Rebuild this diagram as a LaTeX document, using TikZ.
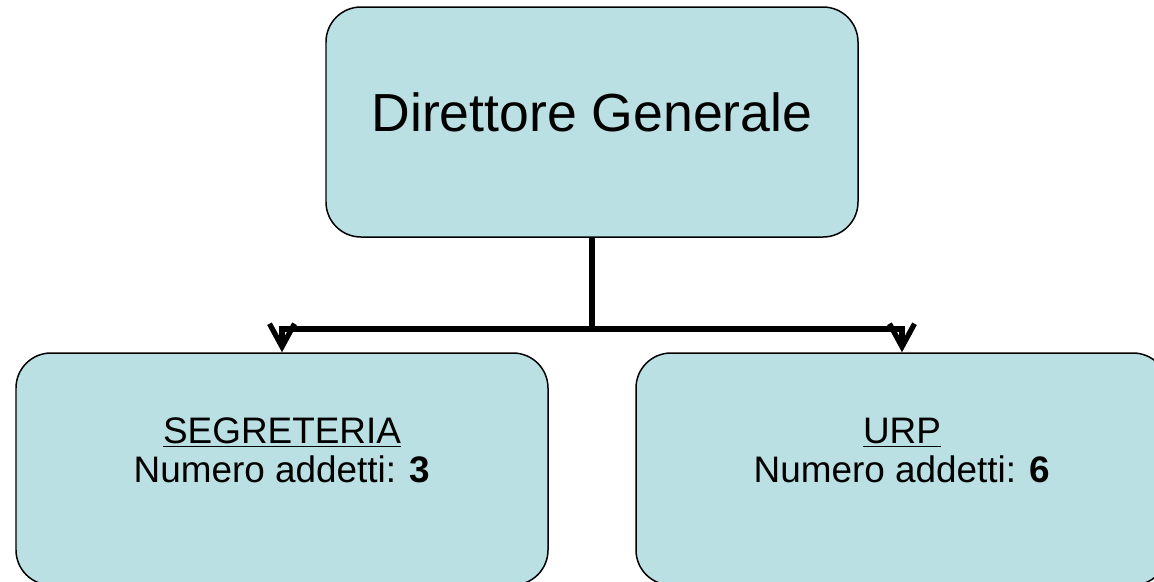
\documentclass[tikz,border=0pt]{standalone}
\usepackage{fontspec}
\setmainfont{Liberation Sans}
\usepackage{xcolor}
\usetikzlibrary{arrows.meta, positioning}
\definecolor{boxblue}{RGB}{187,224,228}
\tikzset{
    unit/.style={draw=black, line width=0.85pt, fill=boxblue, rounded corners=0.7cm, minimum width=10.64cm}, % one office of the chart
    bigtext/.style={font=\fontsize{30.5}{36}\selectfont}, % title of the top box
    smalltext/.style={font=\fontsize{21}{22.4}\selectfont, align=center}, % name and staff of an office
}
\tikzstyle{arrow} = [line width=3pt, -{Straight Barb[length=0.46cm, width=0.5cm]}]

\begin{document}
\begin{tikzpicture}
            \useasboundingbox (0,0) rectangle (23.08,-11.62);
            \clip (0,0) rectangle (23.08,-11.62);
            \node[unit, minimum height=4.6cm] (dg) at (11.84,-2.44) {};
            \node[unit, minimum height=4.64cm] (segreteria) at (5.64,-9.38) {};
            \node[unit, minimum height=4.64cm] (urp) at (18.04,-9.38) {};

            \node[bigtext] (dgtext) at (11.84,-2.24) {Direttore Generale};
            \node[smalltext] (segtext) at (5.64,-9.01) {\underline{SEGRETERIA}\\Numero addetti: \textbf{3}};
            \node[smalltext] (urptext) at (18.04,-9.01) {\underline{URP}\\Numero addetti: \textbf{6}};

            \coordinate (fork) at (11.84,-6.58);
            \draw[line width=3pt] (dg.south) -- (fork);
            \draw[arrow] (fork) -| (segreteria.north);
            \draw[arrow] (fork) -| (urp.north);
        \end{tikzpicture}
\end{document}
